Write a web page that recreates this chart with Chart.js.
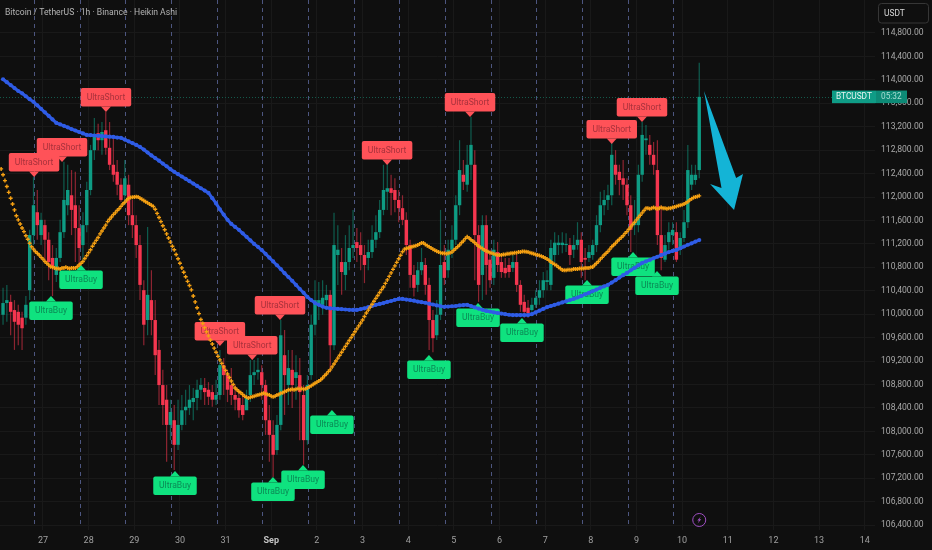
<!DOCTYPE html>
<html>
<head>
<meta charset="utf-8">
<title>BTCUSDT 1h</title>
<script src="https://cdn.jsdelivr.net/npm/chart.js@4"></script>
<style>
  html, body { margin: 0; padding: 0; background: #0f0f0f; }
  canvas { display: block; }
</style>
</head>
<body>
<canvas id="chart" width="932" height="550"></canvas>
<script>
// Heikin Ashi candles, one every 2 hours
const firstCandleHour = -21;
const opens = [109990,110190,110210,110070,110040,109940,109940,110410,111350,111740,111350,111520,111270,110960,110670,110960,111400,111860,112030,111860,111470,111180,111520,112120,112800,113090,112970,113140,112840,112550,112430,112210,112030,112210,111690,111520,111180,110410,109900,110240,109900,109390,108790,108540,108110,108190,107770,108110,108360,108400,108500,108570,108710,108740,108710,108670,108540,108620,109130,108960,108790,108620,108570,108450,108360,108620,108960,109010,109010,108790,108190,107940,107680,108110,109300,108790,109050,108910,108960,108620,107850,108960,109820,110160,110160,110240,110330,109470,111010,110890,110670,110890,111130,111230,111180,111010,110960,111060,111270,111400,111780,112090,112150,112120,111950,111810,111610,111180,110670,110500,110750,110840,110500,109900,109640,109990,110890,110750,111100,111270,111860,112380,112210,112550,112550,111350,110670,111520,110930,110620,111060,110890,110790,110840,110790,110890,110500,110210,110110,110070,110160,110280,110410,110550,110500,111010,111180,111180,111180,111180,111100,111180,111270,110960,110960,111010,111180,111520,111860,111950,112030,112550,112430,112320,112210,111860,111520,111520,112380,112970,112890,112720,112460,111350,110930,111230,111350,111400,111100,111300,111570,112210,112290,112460];
const closes = [110190,110240,110040,109870,109820,109760,110160,111350,111860,111520,111610,111270,110890,110790,110960,111400,111950,112120,111780,111470,111130,111520,112120,112800,113060,112970,113110,112840,112550,112380,112210,111950,112320,111690,111520,111180,110500,109820,110330,109900,109300,108790,108450,108110,108330,107770,108110,108360,108420,108540,108570,108710,108790,108670,108590,108540,108620,109130,108960,108710,108620,108540,108360,108280,108570,108960,109010,109050,108790,108190,107940,107600,108110,109640,108960,109080,108790,109010,108670,107850,108790,109820,110240,110240,110280,110330,109470,111180,111100,110720,110890,111130,111180,111130,111010,110840,111060,111270,111400,111780,112120,112150,112070,111950,111810,111610,111180,110670,110450,110750,110890,110500,109900,109590,109990,110840,110620,111100,111270,111860,112460,112260,112550,112890,111350,110500,111520,110840,110580,111100,110840,110720,110700,110720,110890,110500,110160,110040,110020,110160,110280,110410,110580,110580,111130,111220,111220,111220,111200,111010,111180,111270,110890,110930,111060,111180,111520,111860,111950,112030,112720,112380,112290,112210,111860,111440,111570,112380,113060,113000,112720,112550,111350,110960,111180,111400,111440,110930,111300,111570,112460,112380,112380,113710];
const highs = [110450,110500,110330,110240,110160,110040,110310,111440,112340,112120,111730,111610,111400,111180,111130,111610,112600,112550,112460,112430,111860,111740,112260,112890,113350,113250,113280,113450,113280,113060,112630,112320,112630,112380,111950,111690,111350,110580,111490,110750,110240,109560,109050,108790,108540,108450,108540,108620,108710,108790,108740,108880,108910,108910,108840,108790,108880,109390,109250,109050,109080,108790,108710,108620,108710,109220,109220,109250,109130,108880,108450,108190,108280,109900,109730,109390,109390,109300,109250,108790,108960,109990,110580,110550,110580,110500,110410,111730,111520,111130,111350,111520,111780,111470,111400,111180,111270,111520,111690,111950,112550,112580,112380,112320,112120,112030,111740,111270,110840,110890,111130,110960,110620,110070,110240,111780,111180,111270,111520,112030,112970,112630,112890,113370,112800,111520,111690,111690,111100,111270,111230,111010,110960,110960,111010,111010,110580,110330,110240,110280,110410,110580,110720,110750,111270,111400,111350,111400,111380,111300,111350,111570,111400,111130,111180,111270,111690,112090,112120,112210,112920,112800,112550,112630,112320,112030,111950,112550,113280,113230,113060,112940,112970,111860,111350,111570,111570,111570,111400,111780,112890,112550,112550,114290];
const lows = [109820,109870,109640,109390,109470,109390,109820,110240,111180,111270,111180,110890,110580,110310,110550,110890,111300,111690,111350,110890,110840,110890,111400,112030,112630,112800,112720,112720,112460,112260,112030,111920,111860,111520,111300,110960,110240,109470,109640,109640,108960,108450,108110,107480,107850,107340,107680,108020,108110,108280,108190,108360,108540,108450,108450,108420,108450,108540,108620,108500,108450,108360,108230,108190,108400,108500,108790,108880,108540,107940,107480,107220,107600,108020,108280,108450,108400,108540,107850,107430,107770,108880,109640,109900,109990,110070,109010,109390,110500,110330,110410,110750,110960,110890,110750,110530,110750,110960,111130,111300,111690,111780,111690,111740,111570,111520,111010,110450,110300,110380,110670,110330,109390,109350,109560,109900,110500,110620,110960,111180,111690,112120,112090,112290,110580,110210,110240,110330,110450,110500,110720,110620,110620,110620,110720,110380,110040,109940,109940,110040,110110,110160,110280,110410,110410,110890,111010,111040,111060,110840,110960,111100,110620,110580,110890,110930,111060,111400,111690,111780,111860,112210,112030,111950,111690,111060,111350,111400,112260,112720,112550,112380,111180,110750,110890,111100,111180,110890,111010,111230,111470,112120,112210,112320];

// moving averages, the orange one has a point per hour, the blue one every 2 hours
const firstOrangeHour = -22;
const orangeMa = [112480,112380,112280,112180,112080,111980,111880,111780,111680,111610,111540,111470,111410,111340,111280,111210,111150,111110,111070,111040,111010,110970,110940,110900,110870,110840,110810,110800,110790,110780,110780,110770,110790,110790,110800,110790,110780,110790,110790,110790,110810,110840,110870,110900,110950,111000,111050,111100,111160,111210,111260,111310,111370,111420,111470,111520,111580,111620,111660,111700,111730,111770,111800,111840,111880,111910,111950,111980,111990,111995,112000,112005,112000,111980,111960,111940,111920,111900,111880,111860,111840,111790,111720,111650,111580,111510,111440,111370,111300,111230,111160,111100,111020,110945,110870,110790,110715,110640,110560,110490,110415,110310,110210,110110,110010,109910,109840,109770,109700,109630,109560,109490,109420,109350,109280,109220,109160,109100,109040,108980,108920,108860,108800,108740,108710,108680,108660,108630,108600,108580,108570,108580,108590,108600,108610,108620,108630,108640,108650,108640,108630,108620,108600,108590,108600,108620,108630,108650,108660,108680,108690,108710,108710,108720,108710,108720,108730,108720,108730,108720,108725,108740,108760,108780,108800,108820,108840,108860,108880,108910,108950,108980,109020,109050,109100,109150,109200,109250,109300,109350,109400,109450,109500,109550,109600,109650,109700,109750,109800,109850,109900,109960,110020,110070,110120,110170,110220,110270,110320,110370,110420,110465,110525,110585,110645,110705,110765,110825,110885,110945,111005,111065,111110,111120,111130,111140,111150,111160,111170,111180,111200,111215,111215,111190,111170,111150,111130,111110,111090,111075,111060,111050,111040,111040,111030,111040,111050,111060,111090,111120,111150,111180,111220,111250,111290,111320,111300,111270,111250,111220,111190,111160,111140,111120,111095,111080,111065,111050,111040,111030,111020,111010,111010,111010,111020,111020,111030,111030,111040,111040,111050,111050,111060,111060,111070,111070,111065,111060,111050,111040,111030,111020,111010,111000,110990,110975,110960,110940,110920,110890,110870,110850,110830,110800,110780,110755,110750,110750,110760,110760,110760,110770,110770,110770,110780,110780,110780,110790,110790,110790,110800,110805,110840,110870,110900,110940,110970,111010,111040,111070,111110,111150,111180,111210,111250,111280,111310,111340,111380,111410,111450,111490,111530,111570,111610,111650,111690,111730,111770,111810,111810,111800,111810,111820,111810,111800,111810,111820,111810,111810,111800,111810,111810,111820,111830,111840,111850,111860,111870,111880,111900,111920,111950,111970,111990,112000,112010,112020];
const blueMa = [114010,113960,113910,113860,113810,113770,113720,113670,113625,113565,113505,113445,113385,113325,113265,113240,113215,113190,113160,113135,113110,113085,113060,113055,113050,113045,113040,113035,113030,113025,113015,113010,112980,112950,112920,112890,112855,112810,112760,112710,112665,112620,112570,112525,112475,112430,112390,112350,112310,112270,112230,112190,112150,112110,112070,111980,111890,111790,111700,111610,111540,111490,111440,111380,111320,111260,111200,111150,111095,111030,110965,110900,110835,110770,110700,110635,110570,110500,110430,110365,110295,110240,110190,110160,110130,110110,110100,110095,110090,110085,110080,110075,110072,110072,110085,110100,110120,110140,110160,110175,110190,110210,110225,110245,110260,110260,110250,110240,110230,110215,110205,110195,110180,110165,110150,110135,110125,110130,110135,110140,110150,110155,110160,110140,110115,110095,110075,110055,110045,110030,110020,110010,110000,109990,109985,109985,109985,109985,109985,110000,110030,110060,110090,110120,110140,110160,110180,110200,110220,110240,110260,110285,110310,110340,110365,110395,110420,110450,110475,110500,110540,110580,110625,110665,110705,110750,110790,110835,110875,110900,110925,110955,110980,111010,111035,111060,111080,111096,111125,111155,111185,111210,111240,111265];

// signal labels: hour since 27 Aug and the price at the tip of the flag
const shortHours = [-4.7,10,33.1,93,110,124.6,180.9,224.5,299,314.9];
const shortPrices = [112342,112598,113451,109457,109218,109901,112547,113366,112905,113281];
const buyHours = [4.2,20,69.4,120.9,136.7,151.9,202.9,228.7,251.8,286,310.2,322.8];
const buyPrices = [110311,110840,107323,107221,107426,108365,109303,110191,109935,110584,111062,110737];

// the hand drawn arrow
const arrowHours = [347.5,364.4,368,363.3,350.7,356.7];
const arrowPrices = [113810,112325,112393,111779,112222,112154];

const dayLabels = ["27","28","29","30","31","Sep","2","3","4","5","6","7","8","9","10","11","12","13","14"];
const dayHours = [0,24,48,72,96,120,144,168,192,216,240,264,288,312,336,360,384,408,432];
const priceTicks = [106400,106800,107200,107600,108000,108400,108800,109200,109600,110000,110400,110800,111200,111600,112000,112400,112800,113200,113600,114000,114400,114800];
const sessionHours = [-4.7,19.3,43.3,67.3,91.3,115.3,139.3,163.3,187.3,211.3,235.3,259.3,283.3,307.3,331.3];
const lastPrice = 113710;
const boltHour = 345;
const boltPrice = 106487;

const upColor = "#0e9c84";
const downColor = "#f5364f";
const upWick = "rgba(14,156,132,0.55)";
const downWick = "rgba(245,54,79,0.55)";
const gridColor = "#191919";
const font = "Roboto";

const candleHours = opens.map((_, i) => firstCandleHour + i * 2);
const isUp = opens.map((o, i) => closes[i] >= o);
const isSep = (c) => c.tick && dayLabels[dayHours.indexOf(c.tick.value)] === "Sep";

function drawTag(ctx, x, y, text, isShort) {
  const w = isShort ? 50.5 : 43.5;
  const h = 18.5;
  const top = isShort ? y - 5.5 - h : y + 5.5;
  ctx.fillStyle = isShort ? "#ff5258" : "#0fe27f";
  ctx.beginPath();
  ctx.roundRect(x - w / 2, top, w, h, 2);
  ctx.fill();
  ctx.beginPath();
  ctx.moveTo(x - 5, isShort ? y - 5.5 : y + 5.5);
  ctx.lineTo(x, y);
  ctx.lineTo(x + 5, isShort ? y - 5.5 : y + 5.5);
  ctx.fill();
  ctx.fillStyle = isShort ? "#a8323c" : "#0b8a55";
  ctx.font = "8.6px " + font;
  ctx.textAlign = "center";
  ctx.textBaseline = "middle";
  ctx.fillText(text, x, top + h / 2 + 0.5);
}

const backdrop = {
  id: "backdrop",
  beforeDraw(chart) {
    const ctx = chart.ctx;
    ctx.fillStyle = "#0f0f0f";
    ctx.fillRect(0, 0, chart.width, chart.height);
  },
  beforeDatasetsDraw(chart) {
    const ctx = chart.ctx;
    const { x, y } = chart.scales;
    const area = chart.chartArea;
    ctx.save();
    ctx.lineWidth = 1;
    ctx.setLineDash([4, 4]);
    ctx.strokeStyle = "#4d5680";
    sessionHours.forEach((h) => {
      const px = Math.round(x.getPixelForValue(h)) + 0.5;
      ctx.beginPath();
      ctx.moveTo(px, 0);
      ctx.lineTo(px, area.bottom - 4);
      ctx.stroke();
    });
    ctx.setLineDash([1, 2]);
    ctx.strokeStyle = "#14594b";
    const py = Math.round(y.getPixelForValue(lastPrice)) + 0.5;
    ctx.beginPath();
    ctx.moveTo(0, py);
    ctx.lineTo(area.right, py);
    ctx.stroke();
    ctx.restore();
  },
  afterDatasetDraw(chart, args) {
    // flags sit over the candles but under the moving averages
    if (args.index !== 1) return;
    const ctx = chart.ctx;
    const { x, y } = chart.scales;
    ctx.save();
    shortHours.forEach((h, i) => {
      drawTag(ctx, x.getPixelForValue(h), y.getPixelForValue(shortPrices[i]), "UltraShort", true);
    });
    buyHours.forEach((h, i) => {
      drawTag(ctx, x.getPixelForValue(h), y.getPixelForValue(buyPrices[i]), "UltraBuy", false);
    });
    ctx.restore();
  },
  afterDraw(chart) {
    const ctx = chart.ctx;
    const { x, y } = chart.scales;
    ctx.save();

    // arrow
    ctx.fillStyle = "#14b4d6";
    ctx.beginPath();
    arrowHours.forEach((h, i) => {
      ctx.lineTo(x.getPixelForValue(h), y.getPixelForValue(arrowPrices[i]));
    });
    ctx.closePath();
    ctx.fill();

    // title
    ctx.fillStyle = "#b4b4b4";
    ctx.font = "8.6px " + font;
    ctx.textAlign = "left";
    ctx.textBaseline = "middle";
    ctx.fillText("Bitcoin / TetherUS · 1h · Binance · Heikin Ashi", 5, 12.5);

    // last price tag
    const py = y.getPixelForValue(lastPrice);
    ctx.fillStyle = "#0f9c86";
    ctx.fillRect(832, py - 6.3, 44, 12.6);
    ctx.fillStyle = "#0d8a76";
    ctx.fillRect(876, py - 6.3, 31, 12.6);
    ctx.fillStyle = "#e8f5f2";
    ctx.font = "8.3px " + font;
    ctx.fillText("BTCUSDT", 836, py + 0.5);
    ctx.fillStyle = "#a8dcd2";
    ctx.fillText("05:32", 881, py + 0.5);

    // currency button
    ctx.fillStyle = "#0f0f0f";
    ctx.strokeStyle = "#363636";
    ctx.beginPath();
    ctx.roundRect(878.5, 3.5, 50, 19.5, 3);
    ctx.fill();
    ctx.stroke();
    ctx.fillStyle = "#d8d8d8";
    ctx.font = "8.4px " + font;
    ctx.fillText("USDT", 884, 13.5);

    // lightning badge
    const bx = x.getPixelForValue(boltHour);
    const by = y.getPixelForValue(boltPrice);
    ctx.strokeStyle = "#a04fc4";
    ctx.lineWidth = 1;
    ctx.beginPath();
    ctx.arc(bx, by, 6.5, 0, Math.PI * 2);
    ctx.stroke();
    ctx.fillStyle = "#a04fc4";
    ctx.beginPath();
    ctx.moveTo(bx + 1.6, by - 3.6);
    ctx.lineTo(bx - 2, by + 0.6);
    ctx.lineTo(bx - 0.2, by + 0.6);
    ctx.lineTo(bx - 1.6, by + 3.6);
    ctx.lineTo(bx + 2, by - 0.8);
    ctx.lineTo(bx + 0.2, by - 0.8);
    ctx.closePath();
    ctx.fill();
    ctx.restore();
  },
};

new Chart(document.getElementById("chart").getContext("2d"), {
  type: "bar",
  plugins: [backdrop],
  data: {
    datasets: [
      {
        label: "wick",
        data: candleHours.map((h, i) => ({ x: h, y: [lows[i], highs[i]] })),
        backgroundColor: isUp.map((u) => (u ? upWick : downWick)),
        barThickness: 1.2,
        grouped: false,
        inflateAmount: 0,
        order: 4,
      },
      {
        label: "body",
        data: candleHours.map((h, i) => ({ x: h, y: [opens[i], closes[i]] })),
        backgroundColor: isUp.map((u) => (u ? upColor : downColor)),
        barThickness: 3.4,
        grouped: false,
        inflateAmount: 0,
        order: 3,
      },
      {
        type: "line",
        label: "slow",
        data: blueMa.map((v, i) => ({ x: firstCandleHour + i * 2, y: v })),
        borderColor: "#2f5ce6",
        backgroundColor: "#2f5ce6",
        borderWidth: 3,
        pointRadius: 2.1,
        pointBorderWidth: 0,
        order: 2,
      },
      {
        type: "line",
        label: "fast",
        data: orangeMa.map((v, i) => ({ x: firstOrangeHour + i, y: v })),
        showLine: false,
        borderColor: "#f5a012",
        backgroundColor: "#f5a012",
        pointStyle: "cross",
        pointRadius: 2,
        pointBorderWidth: 1.4,
        order: 1,
      },
    ],
  },
  options: {
    responsive: false,
    animation: false,
    events: [],
    layout: { padding: 0, autoPadding: false },
    plugins: { legend: { display: false }, tooltip: { enabled: false } },
    scales: {
      x: {
        type: "linear",
        offset: false,
        min: -22.6,
        max: 437.4,
        afterBuildTicks: (scale) => { scale.ticks = dayHours.map((value) => ({ value })); },
        afterFit: (scale) => { scale.height = 20; scale.paddingLeft = 0; scale.paddingRight = 0; },
        border: { display: false },
        grid: { color: gridColor, offset: false, drawTicks: false },
        ticks: {
          autoSkip: false,
          maxRotation: 0,
          padding: 5,
          color: (c) => (isSep(c) ? "#c4c4c4" : "#a0a0a0"),
          font: (c) => ({ family: font, size: 9, weight: isSep(c) ? "bold" : "normal" }),
          callback: (v) => dayLabels[dayHours.indexOf(v)],
        },
      },
      y: {
        position: "right",
        min: 106316,
        max: 115363,
        afterBuildTicks: (scale) => { scale.ticks = priceTicks.map((value) => ({ value })); },
        afterFit: (scale) => { scale.width = 57; scale.paddingTop = 0; scale.paddingBottom = 0; },
        border: { display: false },
        grid: { color: gridColor, drawTicks: false },
        ticks: {
          padding: 6,
          autoSkip: false,
          color: "#a8a8a8",
          font: { family: font, size: 8.6 },
          callback: (v) => v.toLocaleString("en-US", { minimumFractionDigits: 2 }),
        },
      },
    },
  },
});
</script>
</body>
</html>
